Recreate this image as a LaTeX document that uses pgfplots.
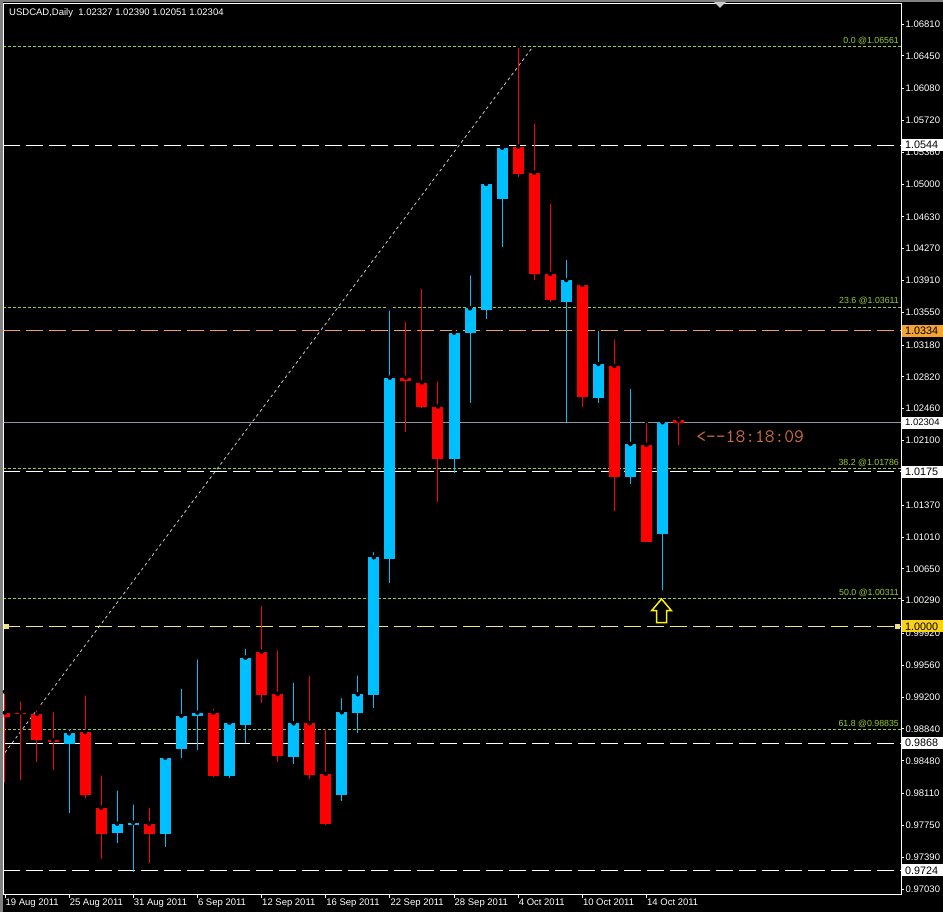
\documentclass[border=0pt]{standalone}
\usepackage{pgfplots}
\pgfplotsset{compat=1.18}
\usepackage{pgfplotstable}
\usepackage{fontspec}
\setmainfont{Liberation Sans}
\definecolor{bull}{RGB}{0,191,255}
\definecolor{bear}{RGB}{255,0,0}
\definecolor{fibgreen}{RGB}{154,205,50}
\definecolor{orangeline}{RGB}{240,160,80}
\definecolor{orangebox}{RGB}{245,165,45}
\definecolor{yellowline}{RGB}{240,225,130}
\definecolor{yellowbox}{RGB}{250,210,20}
\definecolor{bidgray}{RGB}{140,150,165}
\definecolor{timecol}{RGB}{205,110,60}
\definecolor{framegray}{RGB}{128,128,128}
\definecolor{diaggray}{RGB}{200,200,200}

% bullish candles: index, open, high, low, close
\pgfplotstableread{
i O H L C
4 0.98669 0.98858 0.97885 0.98790
7 0.97666 0.98168 0.97546 0.97768
8 0.97757 0.98010 0.97225 0.97779
10 0.97651 0.98556 0.97501 0.98514
11 0.98609 0.99317 0.98507 0.98986
12 0.98989 0.99649 0.98601 0.99023
14 0.98307 0.98940 0.98281 0.98910
15 0.98889 0.99771 0.98677 0.99645
18 0.98525 0.99385 0.98439 0.98903
21 0.98092 0.99211 0.98028 0.99027
22 0.99020 0.99468 0.98797 0.99231
23 0.99223 1.00862 0.99076 1.00780
24 1.00761 1.03595 1.00486 1.02811
28 1.01892 1.03331 1.01730 1.03320
29 1.03313 1.03991 1.02521 1.03595
30 1.03576 1.05010 1.03474 1.05001
31 1.04831 1.05442 1.04292 1.05411
35 1.03670 1.04168 1.02313 1.03915
37 1.02578 1.03361 1.02525 1.02966
39 1.01691 1.02709 1.01609 1.02061
41 1.01043 1.02352 1.00410 1.02306
}\bulltab

% bearish candles: index, open, high, low, close
\pgfplotstableread{
i O H L C
0 0.99023 0.99260 0.98243 0.98978
1 0.99023 0.99174 0.98262 0.99014
2 0.99008 0.99073 0.98469 0.98714
3 0.98714 0.99053 0.98375 0.98688
5 0.98805 0.99242 0.98055 0.98092
6 0.97949 0.98338 0.97365 0.97651
9 0.97768 0.97971 0.97327 0.97651
13 0.99023 0.99091 0.98299 0.98307
16 0.99713 1.00252 0.99129 0.99223
17 0.99234 0.99751 0.98469 0.98537
19 0.98903 0.99468 0.98273 0.98318
20 0.98330 0.98861 0.97750 0.97764
25 1.02811 1.03463 1.02200 1.02777
26 1.02754 1.03840 1.02470 1.02483
27 1.02483 1.02793 1.01402 1.01892
32 1.05423 1.06561 1.05083 1.05114
33 1.05129 1.05705 1.03915 1.03983
34 1.03983 1.04801 1.03670 1.03689
36 1.03859 1.03910 1.02483 1.02587
38 1.02943 1.03268 1.01307 1.01691
40 1.02050 1.02321 1.00950 1.00956
42 1.02327 1.02390 1.02051 1.02304
}\beartab

\newcommand{\tickfont}{\fontsize{9.5bp}{10bp}\selectfont}
\newcommand{\boxfont}{\fontsize{10.8bp}{11bp}\selectfont}
\newcommand{\fibfont}{\fontsize{8.8bp}{9bp}\selectfont}

\begin{document}
\begin{tikzpicture}
\fill[black] (0,0) rectangle (943bp,912bp);
\fill[framegray] (0,909.5bp) rectangle (943bp,912bp);
\fill[framegray] (0,0) rectangle (2.5bp,912bp);
\begin{axis}[
  at={(3.5bp,17bp)}, anchor=south west,
  width=897.5bp, height=891bp, scale only axis,
  xmin=-0.0873, xmax=55.87, ymin=0.96962, ymax=1.07036,
  axis line style={white, line width=1bp},
  clip mode=individual,
  xtick={0,4,...,40},
  xticklabels={19 Aug 2011,25 Aug 2011,31 Aug 2011,6 Sep 2011,12 Sep 2011,16 Sep 2011,22 Sep 2011,28 Sep 2011,4 Oct 2011,10 Oct 2011,14 Oct 2011},
  xtick pos=bottom, ytick pos=right,
  tick align=outside, major tick length=3bp,
  tick style={white, line width=0.8bp},
  ytick={1.0681,1.0645,1.0608,1.0572,1.0536,1.0500,1.0463,1.0427,1.0391,1.0355,1.0318,1.0282,1.0246,1.0210,1.0173,1.0137,1.0101,1.0065,1.0029,0.9992,0.9956,0.9920,0.9884,0.9848,0.9811,0.9775,0.9739,0.9703},
  yticklabels={1.06810,1.06450,1.06080,1.05720,1.05360,1.05000,1.04630,1.04270,1.03910,1.03550,1.03180,1.02820,1.02460,1.02100,1.01730,1.01370,1.01010,1.00650,1.00290,0.99920,0.99560,0.99200,0.98840,0.98480,0.98110,0.97750,0.97390,0.97030},
  yticklabel style={font=\tickfont, text=white, anchor=west, inner sep=0pt, xshift=1.5bp},
  xticklabel style={font=\tickfont, text=white, anchor=north west, inner sep=0pt, xshift=0.5bp, yshift=-1bp},
  scaled y ticks=false,
]
% Fibonacci levels (dotted green)
\addplot[fibgreen, line width=0.8bp, dash pattern=on 3bp off 2bp, forget plot] coordinates {(-0.1,1.06561) (56,1.06561)};
\addplot[fibgreen, line width=0.8bp, dash pattern=on 3bp off 2bp, forget plot] coordinates {(-0.1,1.03611) (56,1.03611)};
\addplot[fibgreen, line width=0.8bp, dash pattern=on 3bp off 2bp, forget plot] coordinates {(-0.1,1.01786) (56,1.01786)};
\addplot[fibgreen, line width=0.8bp, dash pattern=on 3bp off 2bp, forget plot] coordinates {(-0.1,1.00311) (56,1.00311)};
\addplot[fibgreen, line width=0.8bp, dash pattern=on 3bp off 2bp, forget plot] coordinates {(-0.1,0.98835) (56,0.98835)};
% Fibonacci trend line
\addplot[diaggray, line width=0.8bp, dash pattern=on 3bp off 3bp, forget plot] coordinates {(-18.6,0.94061) (32.95,1.06561)};
% horizontal levels
\addplot[white, line width=1bp, dash pattern=on 17bp off 6bp, forget plot] coordinates {(-0.1,1.0544) (56,1.0544)};
\addplot[white, line width=1bp, dash pattern=on 17bp off 6bp, forget plot] coordinates {(-0.1,1.0175) (56,1.0175)};
\addplot[white, line width=1bp, dash pattern=on 17bp off 6bp, forget plot] coordinates {(-0.1,0.9868) (56,0.9868)};
\addplot[white, line width=1bp, dash pattern=on 17bp off 6bp, forget plot] coordinates {(-0.1,0.9724) (56,0.9724)};
\addplot[orangeline, line width=1bp, dash pattern=on 17bp off 6bp, forget plot] coordinates {(-0.1,1.0334) (56,1.0334)};
\addplot[yellowline, line width=1bp, dash pattern=on 17bp off 6bp, forget plot] coordinates {(-0.1,1.0000) (56,1.0000)};
\addplot[only marks, mark=square*, mark size=2bp, color=yellowline, forget plot] coordinates {(0.08,1.0000) (55.66,1.0000)};
\addplot[bidgray, line width=1bp, forget plot] coordinates {(-0.1,1.02304) (56,1.02304)};
% candles: wicks
\addplot[only marks, mark=none, forget plot, error bars/.cd, y dir=minus, y explicit, error mark=none, error bar style={draw=bull, line width=1bp, solid}]
  table[x=i, y=H, y error minus expr=\thisrow{H}-\thisrow{L}] {\bulltab};
\addplot[only marks, mark=none, forget plot, error bars/.cd, y dir=minus, y explicit, error mark=none, error bar style={draw=bear, line width=1bp, solid}]
  table[x=i, y=H, y error minus expr=\thisrow{H}-\thisrow{L}] {\beartab};
% candles: bodies
\addplot[only marks, mark=none, forget plot, error bars/.cd, y dir=minus, y explicit, error mark=none, error bar style={draw=bull, line width=11bp, solid}]
  table[x=i, y=C, y error minus expr=\thisrow{C}-\thisrow{O}] {\bulltab};
\addplot[only marks, mark=none, forget plot, error bars/.cd, y dir=minus, y explicit, error mark=none, error bar style={draw=bear, line width=11bp, solid}]
  table[x=i, y=O, y error minus expr=\thisrow{O}-\thisrow{C}] {\beartab};
% Fibonacci labels
\node[anchor=south east, inner sep=0pt, text=fibgreen, font=\fibfont] at (axis cs:55.75,1.06561) [yshift=1.5bp] {0.0 @1.06561};
\node[anchor=south east, inner sep=0pt, text=fibgreen, font=\fibfont] at (axis cs:55.75,1.03611) [yshift=1.5bp] {23.6 @1.03611};
\node[anchor=south east, inner sep=0pt, text=fibgreen, font=\fibfont] at (axis cs:55.75,1.01786) [yshift=1.5bp] {38.2 @1.01786};
\node[anchor=south east, inner sep=0pt, text=fibgreen, font=\fibfont] at (axis cs:55.75,1.00311) [yshift=1.5bp] {50.0 @1.00311};
\node[anchor=south east, inner sep=0pt, text=fibgreen, font=\fibfont] at (axis cs:55.75,0.98835) [yshift=1.5bp] {61.8 @0.98835};
% countdown text
\node[anchor=west, inner sep=0pt, text=timecol, font=\ttfamily\fontsize{19bp}{19bp}\selectfont] at (axis cs:43.1,1.0214) {<-\kern0pt-18:18:09};
% yellow hollow arrow
\draw[yellow, line width=1.5bp, line join=miter] (axis cs:40.94,1.00309) -- (axis cs:41.56,1.00176) -- (axis cs:41.25,1.00176) -- (axis cs:41.25,1.00041) -- (axis cs:40.63,1.00041) -- (axis cs:40.63,1.00176) -- (axis cs:40.32,1.00176) -- cycle;
% anchors for right-side price boxes
\coordinate (b1) at (axis cs:55.87,1.0544);
\coordinate (b2) at (axis cs:55.87,1.0334);
\coordinate (b3) at (axis cs:55.87,1.02304);
\coordinate (b4) at (axis cs:55.87,1.0175);
\coordinate (b5) at (axis cs:55.87,1.0000);
\coordinate (b6) at (axis cs:55.87,0.9868);
\coordinate (b7) at (axis cs:55.87,0.9724);
\end{axis}
% price boxes on the scale
\foreach \c/\fc/\t in {b1/white/1.0544, b2/orangebox/1.0334, b4/white/1.0175, b5/yellowbox/1.0000, b6/white/0.9868, b7/white/0.9724}{
  \fill[\fc] ([xshift=1bp,yshift=-6bp]\c) rectangle ([xshift=42bp,yshift=6bp]\c);
  \node[anchor=west, inner sep=0pt, text=black, font=\boxfont] at ([xshift=4bp]\c) {\t};
}
\fill[white] ([xshift=1bp,yshift=-6bp]b3) rectangle ([xshift=42bp,yshift=6bp]b3);
\node[anchor=west, inner sep=0pt, text=black, font=\tickfont] at ([xshift=4bp]b3) {1.02304};
% header
\node[anchor=west, inner sep=0pt, text=white, font=\fontsize{9.5bp}{10bp}\selectfont] at (9bp,898.5bp) {USDCAD,Daily\ \ 1.02327 1.02390 1.02051 1.02304};
% chart shift marker
\fill[diaggray] (714bp,910bp) -- (726bp,910bp) -- (720bp,904bp) -- cycle;
\pgfresetboundingbox
\useasboundingbox (0,0) rectangle (943bp,912bp);
\end{tikzpicture}
\end{document}
